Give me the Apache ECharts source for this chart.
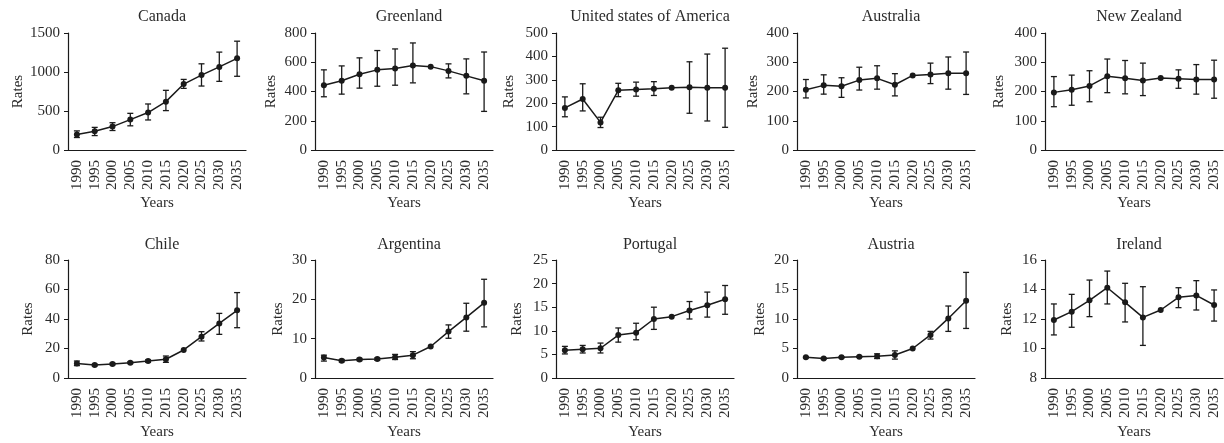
<!DOCTYPE html>
<html>
<head>
<meta charset="utf-8">
<script src="https://cdn.jsdelivr.net/npm/echarts@6/dist/echarts.min.js"></script>
<style>html,body{margin:0;padding:0;background:#fff}#c{width:1224px;height:443px}</style>
</head>
<body>
<div id="c"></div>
<script>
var years = ['1990','1995','2000','2005','2010','2015','2020','2025','2030','2035'];

var canadaMean = [200, 240, 300, 390, 480, 620, 845, 960, 1065, 1175];
var canadaLow  = [160, 185, 250, 310, 385, 505, 790, 820, 880, 945];
var canadaHigh = [245, 290, 350, 470, 590, 765, 905, 1105, 1255, 1395];

var greenlandMean = [443, 473, 518, 548, 557, 577, 570, 541, 507, 473];
var greenlandLow  = [364, 382, 423, 436, 443, 459, 570, 493, 384, 264];
var greenlandHigh = [548, 575, 630, 680, 691, 732, 570, 589, 623, 670];

var usaMean = [180, 218, 118, 255, 259, 262, 266, 268, 266, 266];
var usaLow  = [142, 167, 96, 228, 230, 233, 266, 157, 124, 97];
var usaHigh = [227, 283, 140, 285, 290, 292, 266, 377, 410, 435];

var australiaMean = [206, 221, 218, 239, 245, 223, 255, 258, 262, 262];
var australiaLow  = [178, 191, 180, 205, 208, 185, 255, 227, 208, 190];
var australiaHigh = [241, 257, 247, 283, 288, 261, 255, 297, 318, 335];

var nzMean = [197, 206, 219, 252, 245, 238, 246, 244, 241, 241];
var nzLow  = [148, 153, 165, 196, 192, 186, 246, 211, 191, 177];
var nzHigh = [251, 256, 271, 311, 306, 297, 246, 274, 292, 307];

var chileMean = [9.9, 8.8, 9.5, 10.4, 11.5, 12.7, 19.0, 28.0, 37.0, 45.9];
var chileLow  = [8.4, 8.2, 8.9, 9.8, 10.7, 10.6, 19.0, 25.1, 29.6, 34.1];
var chileHigh = [11.5, 9.4, 10.1, 11.0, 12.3, 14.9, 19.0, 31.4, 43.8, 57.9];

var argentinaMean = [5.2, 4.4, 4.7, 4.8, 5.3, 5.8, 8.0, 11.8, 15.4, 19.1];
var argentinaLow  = [4.3, 4.1, 4.4, 4.5, 4.7, 4.9, 8.0, 10.1, 11.9, 13.0];
var argentinaHigh = [5.8, 4.7, 5.0, 5.1, 6.0, 6.7, 8.0, 13.5, 19.0, 25.1];

var portugalMean = [5.9, 6.1, 6.3, 9.1, 9.6, 12.5, 13.0, 14.3, 15.4, 16.7];
var portugalLow  = [5.1, 5.3, 5.3, 7.6, 8.1, 10.3, 13.0, 12.5, 12.9, 13.5];
var portugalHigh = [6.7, 6.9, 7.4, 10.6, 11.6, 15.0, 13.0, 16.2, 18.2, 19.6];

var austriaMean = [3.5, 3.3, 3.5, 3.6, 3.7, 3.9, 5.0, 7.3, 10.1, 13.1];
var austriaLow  = [3.4, 3.2, 3.4, 3.5, 3.3, 3.2, 5.0, 6.6, 7.9, 8.4];
var austriaHigh = [3.6, 3.4, 3.6, 3.7, 4.1, 4.6, 5.0, 7.9, 12.2, 17.9];

var irelandMean = [11.93, 12.50, 13.27, 14.12, 13.13, 12.11, 12.61, 13.47, 13.60, 12.95];
var irelandLow  = [10.92, 11.44, 12.16, 13.02, 11.80, 10.21, 12.61, 12.77, 12.61, 11.86];
var irelandHigh = [13.02, 13.67, 14.64, 15.25, 14.42, 14.19, 12.61, 14.12, 14.60, 13.97];

var panelNames = ['Canada','Greenland','United states of America','Australia','New Zealand',
                  'Chile','Argentina','Portugal','Austria','Ireland'];
var yMins = [0, 0, 0, 0, 0, 0, 0, 0, 0, 8];
var yMaxs = [1500, 800, 500, 400, 400, 80, 30, 25, 20, 16];
var yIntervals = [500, 200, 100, 100, 100, 20, 10, 5, 5, 2];

var means = [canadaMean, greenlandMean, usaMean, australiaMean, nzMean, chileMean, argentinaMean, portugalMean, austriaMean, irelandMean];
var lows = [canadaLow, greenlandLow, usaLow, australiaLow, nzLow, chileLow, argentinaLow, portugalLow, austriaLow, irelandLow];
var highs = [canadaHigh, greenlandHigh, usaHigh, australiaHigh, nzHigh, chileHigh, argentinaHigh, portugalHigh, austriaHigh, irelandHigh];

// layout
var lefts = [68, 315, 556, 797, 1045];
var gridW = 178;
var rowTop = [33, 260];
var rowH = [117, 118];
var yNameGaps = [42, 36, 39, 36, 38, 32, 29, 31, 29, 30];

var FONT = '"Liberation Serif", "DejaVu Serif", serif';
var TXT = '#2b2b2b';
var LINE = '#1a1a1a';

var grids = [], xAxes = [], yAxes = [], series = [], titles = [];
for (var i = 0; i < 10; i++) {
  var col = i % 5, row = Math.floor(i / 5);
  grids.push({left: lefts[col], top: rowTop[row], width: gridW, height: rowH[row], containLabel: false});
  titles.push({
    text: panelNames[i], left: lefts[col] + gridW / 2, top: row === 0 ? 4 : 232, textAlign: 'center',
    textStyle: {fontFamily: FONT, fontSize: 16, fontWeight: 'normal', color: TXT}
  });
  xAxes.push({
    type: 'category', gridIndex: i, data: years, boundaryGap: true,
    name: 'Years', nameLocation: 'middle', nameGap: row === 0 ? 46 : 47,
    nameTextStyle: {fontFamily: FONT, fontSize: 15, color: TXT},
    axisLine: {lineStyle: {color: LINE, width: 1.2}},
    axisTick: {alignWithLabel: true, length: 4, lineStyle: {color: LINE}},
    axisLabel: {rotate: 90, interval: 0, margin: 10, fontFamily: FONT, fontSize: 15, color: TXT},
    splitLine: {show: false}
  });
  yAxes.push({
    type: 'value', gridIndex: i, min: yMins[i], max: yMaxs[i], interval: yIntervals[i],
    name: 'Rates', nameLocation: 'middle', nameGap: yNameGaps[i], nameRotate: 90,
    nameTextStyle: {fontFamily: FONT, fontSize: 15, color: TXT},
    axisLine: {show: true, lineStyle: {color: LINE, width: 1.2}},
    axisTick: {show: true, length: 4, lineStyle: {color: LINE}},
    axisLabel: {margin: 8, fontFamily: FONT, fontSize: 15, color: TXT,
                formatter: function (v) { return String(v); }},
    splitLine: {show: false}
  });
  var errData = [];
  for (var k = 0; k < years.length; k++) errData.push([k, lows[i][k], highs[i][k]]);
  series.push({
    type: 'custom', xAxisIndex: i, yAxisIndex: i, data: errData, z: 2,
    renderItem: function (params, api) {
      var x = api.value(0);
      var lo = api.coord([x, api.value(1)]);
      var hi = api.coord([x, api.value(2)]);
      if (Math.abs(lo[1] - hi[1]) < 1) return null;
      var cw = 3;
      var st = {stroke: LINE, lineWidth: 1.3, fill: null};
      return {type: 'group', children: [
        {type: 'line', shape: {x1: lo[0], y1: lo[1], x2: hi[0], y2: hi[1]}, style: st},
        {type: 'line', shape: {x1: lo[0] - cw, y1: lo[1], x2: lo[0] + cw, y2: lo[1]}, style: st},
        {type: 'line', shape: {x1: hi[0] - cw, y1: hi[1], x2: hi[0] + cw, y2: hi[1]}, style: st}
      ]};
    }
  });
  series.push({
    type: 'line', xAxisIndex: i, yAxisIndex: i, data: means[i], z: 3,
    symbol: 'circle', symbolSize: 6, showSymbol: true,
    lineStyle: {color: LINE, width: 1.5}, itemStyle: {color: LINE},
    animation: false
  });
}

var chart = echarts.init(document.getElementById('c'), null, {renderer: 'canvas'});
chart.setOption({
  animation: false, backgroundColor: '#fff',
  title: titles, grid: grids, xAxis: xAxes, yAxis: yAxes, series: series
});
</script>
</body>
</html>
